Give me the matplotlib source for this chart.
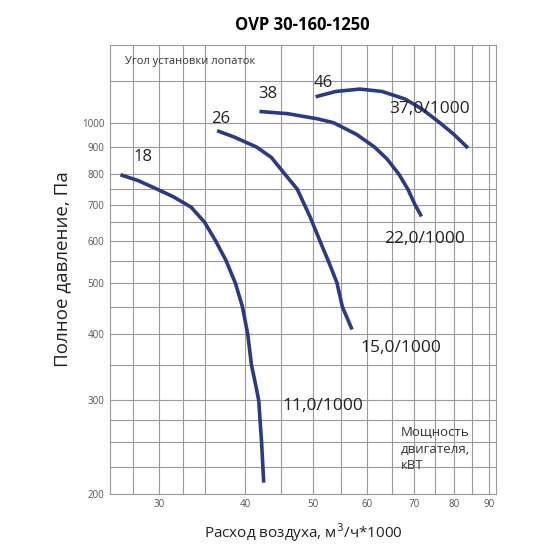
import numpy as np
import matplotlib.pyplot as plt
from matplotlib.ticker import FixedLocator, NullFormatter, NullLocator

# curves: flow (m3/h*1000) vs pressure (Pa)
x18 = [26.4, 28.0, 29.8, 31.5, 33.4, 34.9, 36.2, 37.5, 38.7, 39.6, 40.3, 40.8, 41.4, 41.8, 42.2, 42.5]
y18 = [798, 778, 750, 725, 693, 650, 600, 550, 498, 450, 400, 350, 320, 300, 250, 210]
x26 = [36.4, 38.5, 41.5, 43.6, 45.6, 47.5, 49.6, 51.2, 52.8, 54.2, 55.2, 57.0]
y26 = [966, 940, 900, 860, 800, 750, 664, 600, 545, 500, 450, 408]
x38 = [41.9, 46.0, 50.8, 53.6, 57.9, 61.4, 64.0, 66.6, 68.6, 70.3, 71.8]
y38 = [1050, 1040, 1017, 1000, 950, 900, 855, 800, 750, 700, 666]
x46 = [50.5, 54.0, 58.5, 63.0, 68.0, 72.0, 76.3, 80.0, 83.8]
y46 = [1119, 1145, 1157, 1145, 1108, 1060, 1000, 950, 896]

angles = ['18', '26', '38', '46']
angle_pos = [(27.6, 860), (35.7, 1016), (41.8, 1132), (50.2, 1190)]
powers = ['11,0/1000', '15,0/1000', '22,0/1000', '37,0/1000']
power_pos = [(45.2, 293), (58.6, 376), (63.5, 605), (64.5, 1060)]

x_ticks = [30, 40, 50, 60, 70, 80, 90]
y_ticks = [200, 300, 400, 500, 600, 700, 800, 900, 1000]
x_grid = [27.5, 30, 32.5, 35, 40, 45, 50, 55, 60, 65, 70, 75, 80, 85, 90]
y_grid = [225, 250, 275, 300, 350, 400, 450, 500, 550, 600, 650, 700, 750,
          800, 900, 1000, 1200]

plt.rcParams['font.family'] = ['Open Sans', 'DejaVu Sans']

fig = plt.figure(figsize=(5.5, 5.5), dpi=100)
ax = fig.add_axes([0.2, 0.102, 0.702, 0.816])
ax.set_xscale('log')
ax.set_yscale('log')
ax.set_xlim(25.5, 92)
ax.set_ylim(200, 1400)

for gx in x_grid:
    ax.axvline(gx, color='#9a9a9a', lw=0.8, zorder=0)
for gy in y_grid:
    ax.axhline(gy, color='#9a9a9a', lw=0.8, zorder=0)
for s in ax.spines.values():
    s.set_color('#9a9a9a')
    s.set_linewidth(0.8)

ax.xaxis.set_major_locator(FixedLocator(x_ticks))
ax.yaxis.set_major_locator(FixedLocator(y_ticks))
ax.xaxis.set_minor_locator(NullLocator())
ax.yaxis.set_minor_locator(NullLocator())
ax.xaxis.set_minor_formatter(NullFormatter())
ax.yaxis.set_minor_formatter(NullFormatter())
ax.set_xticklabels([str(v) for v in x_ticks])
ax.set_yticklabels([str(v) for v in y_ticks])
ax.tick_params(labelsize=7, colors='#555555', length=0, pad=4)

line_color = '#2b3a87'
for xs, ys in [(x18, y18), (x26, y26), (x38, y38), (x46, y46)]:
    ax.plot(xs, ys, color=line_color, lw=2.6, solid_capstyle='butt',
            solid_joinstyle='round')

for t, (px, py) in zip(angles, angle_pos):
    ax.text(px, py, t, fontsize=12, color='#222222', va='center')
for t, (px, py) in zip(powers, power_pos):
    ax.text(px, py, t, fontsize=12.5, color='#222222', va='center')

ax.text(26.8, 1305, 'Угол установки лопаток', fontsize=8, color='#333333',
        va='center')
ax.text(67.0, 243, 'Мощность\nдвигателя,\nкВТ', fontsize=9.5, color='#333333',
        va='center', linespacing=1.4)

fig.text(0.55, 0.955, 'OVP 30-160-1250', fontsize=12, fontweight='bold',
         ha='center', va='center')
ax.set_ylabel('Полное давление, Па', fontsize=13.5, color='#222222', labelpad=8)
ax.set_xlabel('Расход воздуха, м$^3$/ч*1000', fontsize=11, color='#222222',
              labelpad=8)

fig.savefig('out.png', dpi=100)
